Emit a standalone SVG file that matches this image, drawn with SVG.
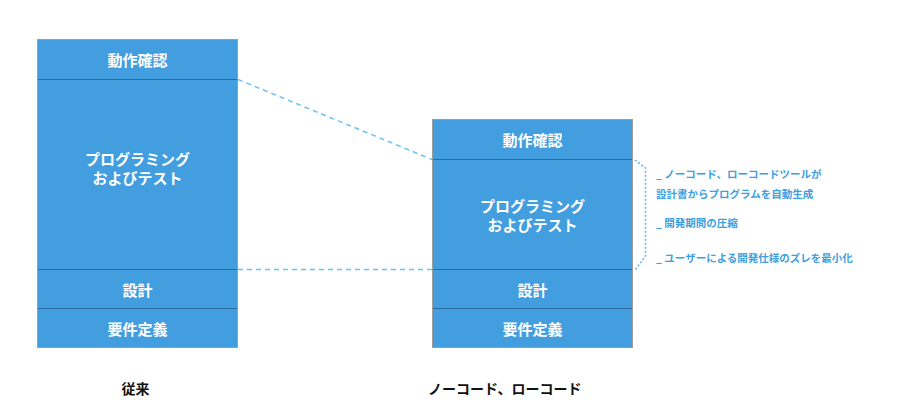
<svg xmlns="http://www.w3.org/2000/svg" width="900" height="412" viewBox="0 0 900 412">
<style>
.box{fill:#439ee0;stroke:#9c9c9c;stroke-width:1}
.div{stroke:#2b6aa0;stroke-width:1.2}
.lbl{font-family:"Noto Sans CJK JP","Noto Sans",sans-serif;font-size:15px;font-weight:bold;fill:#ffffff;text-anchor:middle;dominant-baseline:central}
.cap{font-family:"Noto Sans CJK JP","Noto Sans",sans-serif;font-size:14px;font-weight:bold;fill:#111111;dominant-baseline:central}
.note{font-family:"Noto Sans CJK JP","Noto Sans",sans-serif;font-size:10.5px;font-weight:bold;fill:#3d9fe2;dominant-baseline:central}
.dash{fill:none;stroke:#6cc0f4;stroke-width:1.5;stroke-dasharray:5 4}
.dot{fill:none;stroke:#5ab4ee;stroke-width:1.5;stroke-dasharray:2 2}
</style>
<rect width="900" height="412" fill="#ffffff"/>
<g id="connectors">
<line class="dash" x1="238" y1="79.5" x2="432" y2="159.5"/>
<line class="dash" x1="238" y1="269.5" x2="432" y2="269.5"/>
<path class="dot" d="M635,160 L645.5,168 L645.5,256 L635,270"/>
</g>
<g id="left-stack">
<rect class="box" x="37.5" y="39.5" width="200" height="308"/>
<line class="div" x1="38" y1="79.5" x2="237" y2="79.5"/>
<line class="div" x1="38" y1="269.5" x2="237" y2="269.5"/>
<line class="div" x1="38" y1="308.5" x2="237" y2="308.5"/>
<text class="lbl" x="137.5" y="59.5">動作確認</text>
<text class="lbl" x="137.5" y="158.5">プログラミング</text>
<text class="lbl" x="137.5" y="177.5">およびテスト</text>
<text class="lbl" x="137.5" y="289.5">設計</text>
<text class="lbl" x="137.5" y="328.5">要件定義</text>
</g>
<g id="right-stack">
<rect class="box" x="432.5" y="119.5" width="200" height="228"/>
<line class="div" x1="433" y1="159.5" x2="632" y2="159.5"/>
<line class="div" x1="433" y1="269.5" x2="632" y2="269.5"/>
<line class="div" x1="433" y1="308.5" x2="632" y2="308.5"/>
<text class="lbl" x="532.5" y="139.5">動作確認</text>
<text class="lbl" x="532.5" y="205">プログラミング</text>
<text class="lbl" x="532.5" y="224">およびテスト</text>
<text class="lbl" x="532.5" y="289.5">設計</text>
<text class="lbl" x="532.5" y="328.5">要件定義</text>
</g>
<g id="notes">
<text class="note" x="656" y="173">_ ノーコード、ローコードツールが</text>
<text class="note" x="656" y="193">設計書からプログラムを自動生成</text>
<text class="note" x="656" y="222">_ 開発期間の圧縮</text>
<text class="note" x="656" y="257">_ ユーザーによる開発仕様のズレを最小化</text>
</g>
<g id="captions">
<text class="cap" x="135.5" y="387.5" text-anchor="middle">従来</text>
<text class="cap" x="428" y="387.5">ノーコード、ローコード</text>
</g>
</svg>
